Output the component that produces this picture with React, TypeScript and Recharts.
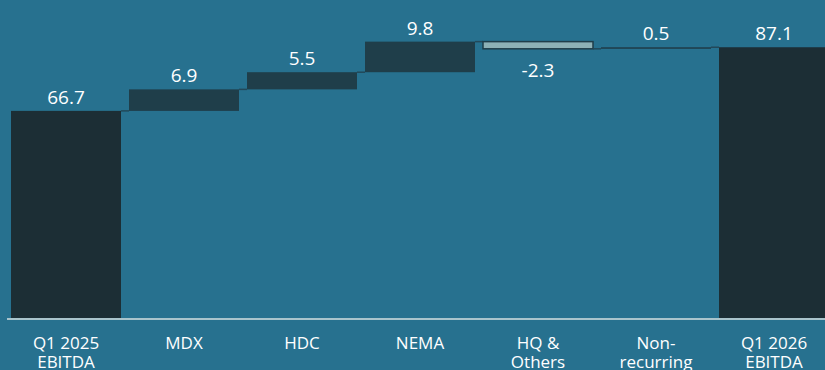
import React from 'react';
import { BarChart, Bar, XAxis, YAxis } from 'recharts';

const categories = ['Q1 2025\nEBITDA', 'MDX', 'HDC', 'NEMA', 'HQ &\nOthers', 'Non-\nrecurring', 'Q1 2026\nEBITDA'];
const values = [66.7, 6.9, 5.5, 9.8, -2.3, 0.5, 87.1];
const kinds = ['total', 'delta', 'delta', 'delta', 'delta', 'delta', 'total'];
const valueLabels = ['66.7', '6.9', '5.5', '9.8', '-2.3', '0.5', '87.1'];

const BG = '#27718f';
const TOTAL_COLOR = '#1c2e35';
const UP_COLOR = '#1f3e4a';
const DOWN_COLOR = '#8db1b6';
const AXIS_COLOR = '#a9c4cc';
const FONT = '"Open Sans", "Noto Sans", sans-serif';

// running total -> [low, high] ranges for each bar
let running = 0;
const data = categories.map((name, i) => {
  const v = values[i];
  let low: number;
  let high: number;
  if (kinds[i] === 'total') {
    low = 0;
    high = v;
    running = v;
  } else {
    const start = running;
    running = start + v;
    low = Math.min(start, running);
    high = Math.max(start, running);
  }
  return { name, range: [low, high], value: v, kind: kinds[i], label: valueLabels[i] };
});

const WaterfallShape = (props: any) => {
  const { x, y, width, height, payload, index } = props;
  const top = Math.min(y, y + height);
  const h = Math.max(Math.abs(height), 1.5);
  const neg = payload.value < 0;
  const fill = payload.kind === 'total' ? TOTAL_COLOR : neg ? DOWN_COLOR : UP_COLOR;
  const endY = neg ? top + h : top;
  const labelY = neg ? top + h + 28 : top - 7;
  return (
    <g>
      <rect
        x={x}
        y={top}
        width={width}
        height={h}
        fill={fill}
        stroke={neg ? UP_COLOR : 'none'}
        strokeWidth={neg ? 1.5 : 0}
      />
      {index < data.length - 1 && (
        <line x1={x + width} x2={x + width + 8} y1={endY} y2={endY} stroke="#22495a" strokeWidth={1.5} />
      )}
      <text
        x={x + width / 2}
        y={labelY}
        textAnchor="middle"
        fill="#ffffff"
        fontSize={19}
        fontFamily={FONT}
      >
        {payload.label}
      </text>
    </g>
  );
};

const CategoryTick = (props: any) => {
  const { x, y, payload } = props;
  const lines = String(payload.value).split('\n');
  return (
    <text
      x={x}
      y={y}
      textAnchor="middle"
      fill="#ffffff"
      fontSize={17}
      fontFamily={FONT}
    >
      {lines.map((ln, i) => (
        <tspan key={i} x={x} dy={i === 0 ? 22 : 19}>
          {ln}
        </tspan>
      ))}
    </text>
  );
};

export default function App() {
  return (
    <div
      style={{
        position: 'fixed',
        left: 0,
        top: 0,
        width: 825,
        height: 370,
        overflow: 'hidden',
        background: BG,
      }}
    >
      <BarChart
        width={833}
        height={370}
        data={data}
        margin={{ top: 7, right: 0, left: 7, bottom: 0 }}
        barCategoryGap={0}
      >
        <XAxis
          dataKey="name"
          tickLine={false}
          axisLine={{ stroke: AXIS_COLOR, strokeWidth: 2 }}
          tick={<CategoryTick />}
          interval={0}
          height={51}
        />
        <YAxis hide domain={[0, 100]} />
        <Bar dataKey="range" barSize={110} shape={<WaterfallShape />} isAnimationActive={false} />
      </BarChart>
    </div>
  );
}
